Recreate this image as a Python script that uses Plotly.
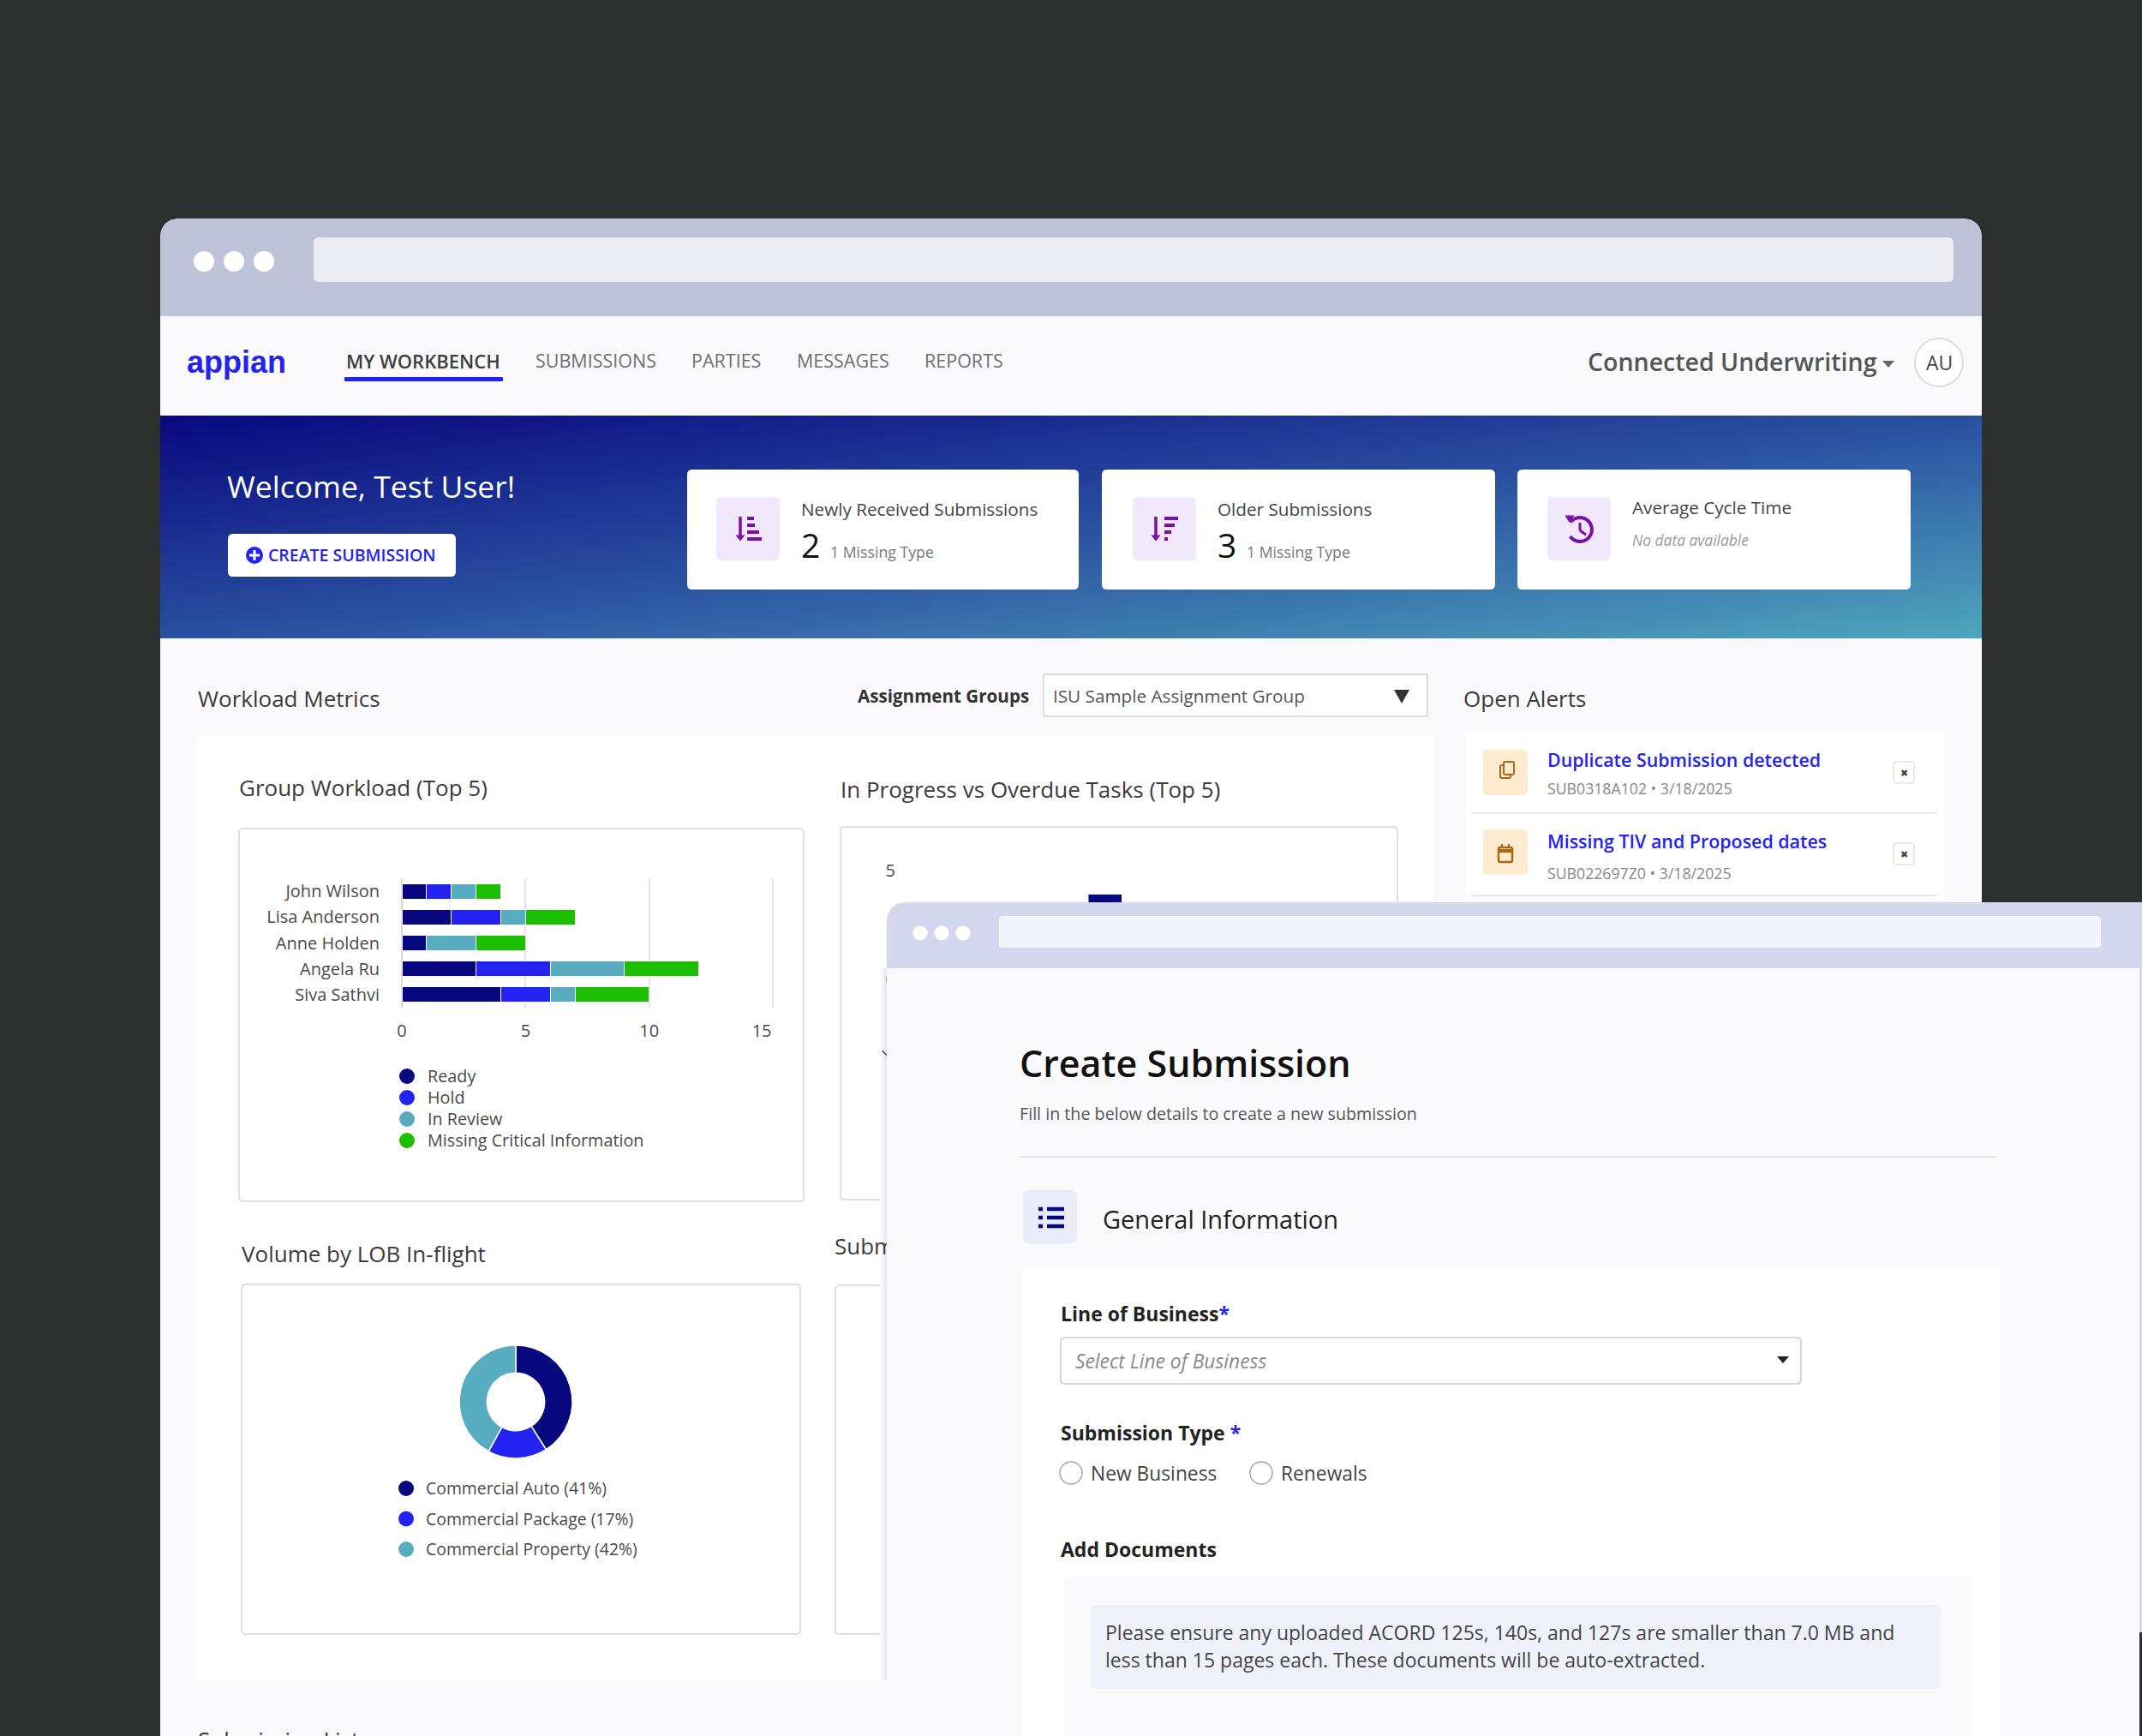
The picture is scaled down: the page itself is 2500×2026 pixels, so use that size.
"""Connected Underwriting workbench mockup: two browser windows with charts"""

import math

import plotly.graph_objects as go

W, H = 2500, 2026
FONT = "Open Sans"

# group workload data
people = ["John Wilson", "Lisa Anderson", "Anne Holden", "Angela Ru", "Siva Sathvi"]
ready = [1, 2, 1, 3, 4]
hold = [1, 2, 0, 3, 2]
in_review = [1, 1, 2, 3, 1]
missing_info = [1, 2, 2, 3, 3]
workload_ticks = [0, 5, 10, 15]
# last label sits left of its gridline in the original
workload_labels = ["0", "5", "10", "15\u00a0\u00a0\u00a0\u00a0\u00a0"]
status_names = ["Ready", "Hold", "In Review", "Missing Critical Information"]

# LOB donut data
lob_names = ["Commercial Auto", "Commercial Package", "Commercial Property"]
lob_values = [41, 17, 42]

# in progress chart, only one bar shows above the front window
progress_values = [None, None, 3.9, None, None]
progress_ticks = [0, 5]

NAVY = "#07077f"
BLUE = "#2322f0"
TEAL = "#57adbf"
GREEN = "#1cbf00"
PURPLE = "#7a0fa8"
BROWN = "#a8680f"
status_colors = [NAVY, BLUE, TEAL, GREEN]
lob_colors = [NAVY, BLUE, TEAL]

shapes = []
notes = []


def px(x):
    return x / W


def py(y):
    return 1 - y / H


def rrect(x0, y0, x1, y1, r=6, fill="white", line=None, lw=1.5, layer="below", top_only=False):
    rb = 0 if top_only else r
    d = (
        f"M{px(x0 + r)},{py(y0)} L{px(x1 - r)},{py(y0)} Q{px(x1)},{py(y0)} {px(x1)},{py(y0 + r)} "
        f"L{px(x1)},{py(y1 - rb)} Q{px(x1)},{py(y1)} {px(x1 - rb)},{py(y1)} "
        f"L{px(x0 + rb)},{py(y1)} Q{px(x0)},{py(y1)} {px(x0)},{py(y1 - rb)} "
        f"L{px(x0)},{py(y0 + r)} Q{px(x0)},{py(y0)} {px(x0 + r)},{py(y0)} Z"
    )
    shapes.append(dict(
        type="path", path=d, xref="paper", yref="paper", fillcolor=fill, layer=layer,
        line=dict(color=line, width=lw) if line else dict(width=0),
    ))


def circle(cx, cy, r, fill="white", line=None, lw=1.5, layer="below"):
    shapes.append(dict(
        type="circle", xref="paper", yref="paper", layer=layer,
        x0=px(cx - r), x1=px(cx + r), y0=py(cy + r), y1=py(cy - r), fillcolor=fill,
        line=dict(color=line, width=lw) if line else dict(width=0),
    ))


def seg(x0, y0, x1, y1, color, lw=2, layer="below"):
    shapes.append(dict(
        type="line", xref="paper", yref="paper", layer=layer,
        x0=px(x0), x1=px(x1), y0=py(y0), y1=py(y1), line=dict(color=color, width=lw),
    ))


def tri(cx, cy, w, h, color, layer="below"):
    d = f"M{px(cx - w / 2)},{py(cy - h / 2)} L{px(cx + w / 2)},{py(cy - h / 2)} L{px(cx)},{py(cy + h / 2)} Z"
    shapes.append(dict(type="path", path=d, xref="paper", yref="paper", fillcolor=color,
                       layer=layer, line=dict(width=0)))


def txt(x, y, s, size=20, color="#444444", anchor="left", weight=400, style="normal", family=FONT):
    # annotations land a touch low and right, nudge them back
    if anchor == "left":
        x -= 1.5
        y -= 1.5
    notes.append(dict(
        x=px(x), y=py(y), xref="paper", yref="paper", text=s, showarrow=False,
        xanchor=anchor, yanchor="middle", align=anchor, borderpad=0,
        font=dict(family=family, size=size, color=color, weight=weight, style=style),
    ))


# ---- backdrop and rear window
rrect(187, 255, 2313, 2060, r=24, fill="#fafafc", top_only=True)
rrect(187, 255, 2313, 369, r=24, fill="#bfc3d8", top_only=True)
rrect(366, 277, 2280, 329, r=6, fill="#ecedf2")
for cx in [238, 273, 308]:
    circle(cx, 305, 12)

# nav
txt(218, 424, "appian", 36, BLUE, weight=700, family="Liberation Sans")
txt(405, 422, "MY WORKBENCH", 22, "#3d3d3d", weight=600)
for x, label in [(625, "SUBMISSIONS"), (807, "PARTIES"), (930, "MESSAGES"), (1079, "REPORTS")]:
    txt(x, 422, label, 21.5, "#6f6f6f")
rrect(402, 440, 587, 445, r=1, fill=BLUE)
txt(1853, 424, "Connected Underwriting", 28.5, "#555555", weight=600)
tri(2204, 425, 14, 8, "#666666")
circle(2263, 423, 28, fill="white", line="#dddddd", lw=2)
txt(2263, 423, "AU", 23, "#444444", anchor="center", weight=500)

# banner text and button, cards go above the gradient
txt(265, 568, "Welcome, Test User!", 35.5, "white")
rrect(266, 623, 532, 673, r=6, layer="above")
circle(297, 648, 10, fill=BLUE, layer="above")
seg(291, 648, 303, 648, "white", 3, layer="above")
seg(297, 642, 297, 654, "white", 3, layer="above")
txt(313, 649, "CREATE SUBMISSION", 19.5, BLUE, weight=600)

cards = [
    (802, 1259, 836, "Newly Received Submissions", "2", "1 Missing Type"),
    (1286, 1745, 1322, "Older Submissions", "3", "1 Missing Type"),
    (1771, 2230, 1806, "Average Cycle Time", None, "No data available"),
]
for x0, x1, ix, title, num, sub in cards:
    rrect(x0, 548, x1, 688, r=6, layer="above")
    rrect(ix, 580, ix + 74, 654, r=6, fill="#f2e8fc", layer="above")
    tx = ix + 99
    if num:
        txt(tx, 596, title, 20.7, "#444444")
        txt(tx, 637, num, 39, "#111111")
        txt(tx + 34, 645, sub, 17.7, "#777777")
    else:
        txt(tx, 594, title, 20.7, "#444444")
        txt(tx, 631, sub, 17.4, "#9a9a9a", style="italic")

# sort icons on the first two cards
seg(864, 603, 864, 628, PURPLE, 3.5, layer="above")
tri(864, 628, 11, 7, PURPLE, layer="above")
for y, w in [(605, 8), (613, 9), (621, 14), (629, 17)]:
    seg(872, y, 872 + w, y, PURPLE, 4, layer="above")
seg(1349, 603, 1349, 628, PURPLE, 3.5, layer="above")
tri(1349, 628, 11, 7, PURPLE, layer="above")
for y, w in [(605, 16), (613, 12), (621, 8), (629, 4)]:
    seg(1359, y, 1359 + w, y, PURPLE, 4, layer="above")

# history icon on the third card
arc = [(1844 + 14 * math.cos(math.radians(a)), 618 + 14 * math.sin(math.radians(a))) for a in range(-140, 150, 15)]
shapes.append(dict(
    type="path", xref="paper", yref="paper", layer="above", line=dict(color=PURPLE, width=4),
    path="M" + " L".join(f"{px(a)},{py(b)}" for a, b in arc),
))
tri(1832, 606, 11, 9, PURPLE, layer="above")
seg(1844, 610, 1844, 619, PURPLE, 3, layer="above")
seg(1844, 619, 1851, 624, PURPLE, 3, layer="above")

# ---- workload section
txt(231, 817, "Workload Metrics", 26, "#3b3b3b", weight=500)
txt(1001, 814, "Assignment Groups", 20.6, "#333333", weight=700)
rrect(1218, 787, 1666, 836, r=1, line="#dddddd", lw=2)
txt(1229, 814, "ISU Sample Assignment Group", 20.7, "#555555")
tri(1636, 813, 18, 16, "#333333")
rrect(231, 859, 1674, 1960, r=2)

# chart panels
txt(279, 920, "Group Workload (Top 5)", 26, "#3b3b3b", weight=500)
rrect(279, 967, 938, 1402, r=5, line="#dfdfe8", lw=2)
txt(981, 922, "In Progress vs Overdue Tasks (Top 5)", 26, "#3b3b3b", weight=500)
rrect(981, 965, 1631, 1400, r=5, line="#dfdfe8", lw=2)
txt(282, 1464, "Volume by LOB In-flight", 26, "#3b3b3b", weight=500)
rrect(282, 1499, 934, 1907, r=5, line="#dfdfe8", lw=2)
rrect(975, 1500, 1600, 1907, r=5, line="#dfdfe8", lw=2)

# soft shadow left of the front window
seg(1029, 1130, 1029, 1960, "#f8f8fb", 2)
seg(1031, 1130, 1031, 1960, "#f2f2f8", 2)
seg(1033.5, 1130, 1033.5, 1960, "#e9e9f3", 3)

# legends
for i, name in enumerate(status_names):
    y = 1256 + i * 25
    circle(475, y, 9, fill=status_colors[i])
    txt(499, y + 1, name, 19.8, "#4a4a4a")
for i, name in enumerate(lob_names):
    y = 1737 + i * 35.5
    circle(474, y, 9, fill=lob_colors[i])
    txt(497, y + 1, f"{name} ({lob_values[i]}%)", 19.4, "#4a4a4a")

# open alerts
txt(1708, 817, "Open Alerts", 26, "#3b3b3b", weight=500)
rrect(1710, 853, 2269, 1100, r=4)
alerts = [
    (875, 888, 921, 901, 949, "Duplicate Submission detected", "SUB0318A102 • 3/18/2025"),
    (968, 983, 1020, 996, 1045, "Missing TIV and Proposed dates", "SUB022697Z0 • 3/18/2025"),
]
for y0, ty, sy, by, ly, title, sub in alerts:
    rrect(1731, y0, 1783, y0 + 53, r=5, fill="#fdebd0")
    txt(1806, ty, title, 21.4, BLUE, weight=600)
    txt(1806, sy, sub, 17.7, "#888888")
    rrect(2210, by - 12, 2234, by + 13, r=4, line="#e2e2e8", lw=1.5)
    txt(2222, by, "✖", 11, "#444444", anchor="center")
    seg(1717, ly, 2261, ly, "#e8e8ee", 2)
# copy icon
rrect(1751, 893, 1763, 908, r=2, fill="#fdebd0", line=BROWN, lw=2)
rrect(1755, 889, 1767, 904, r=2, fill="#fdebd0", line=BROWN, lw=2)
# calendar icon
rrect(1749, 989, 1765, 1006, r=2, fill="#fdebd0", line=BROWN, lw=2.5)
seg(1749, 993, 1765, 993, BROWN, 4)
seg(1753, 985, 1753, 990, BROWN, 2)
seg(1761, 985, 1761, 990, BROWN, 2)

# ---- front window, drawn over the rear charts
rrect(1035, 1053, 2540, 2060, r=24, fill="#d4d8ee", layer="above", top_only=True)
rrect(1035, 1130, 2497, 2060, r=1, fill="#fafafc", layer="above")
rrect(2497, 1905, 2540, 2060, r=1, fill="#2e302f", layer="above")
rrect(1166, 1069, 2452, 1106, r=5, fill="#f4f5fb", layer="above")
for cx in [1074, 1099, 1124]:
    circle(cx, 1089, 8.5, layer="above")

txt(1190, 1242, "Create Submission", 43, "#111111", weight=600)
txt(1190, 1301, "Fill in the below details to create a new submission", 19.7, "#555555")
seg(1190, 1350, 2330, 1350, "#d8d8e2", 1.5, layer="above")
rrect(1194, 1389, 1257, 1451, r=6, fill="#eaedf9", layer="above")
for y in [1411, 1421, 1431]:
    seg(1212, y, 1217, y, NAVY, 4.5, layer="above")
    seg(1222, y, 1242, y, NAVY, 4.5, layer="above")
txt(1288, 1424, "General Information", 29, "#222222", weight=500)

rrect(1194, 1479, 2334, 2060, r=10, layer="above")
txt(1238, 1534, f"Line of Business<span style='color:{BLUE}'>*</span>", 23, "#222222", weight=700)
rrect(1238, 1561, 2102, 1615, r=5, line="#cccccc", lw=1.5, layer="above")
txt(1255, 1590, "Select Line of Business", 22.8, "#8a8a8a", style="italic")
tri(2081, 1587, 14, 8, "#222222", layer="above")
txt(1238, 1673, f"Submission Type <span style='color:{BLUE}'>*</span>", 23, "#222222", weight=700)
circle(1250, 1719, 13, line="#aaaaaa", layer="above")
txt(1273, 1721, "New Business", 22.8, "#444444")
circle(1472, 1719, 13, line="#aaaaaa", layer="above")
txt(1495, 1721, "Renewals", 22.8, "#444444")
txt(1238, 1809, "Add Documents", 23, "#222222", weight=700)
rrect(1241, 1840, 2301, 2060, r=10, fill="#fafafc", layer="above")
rrect(1273, 1873, 2265, 1971, r=6, fill="#eff2fb", layer="above")
txt(1290, 1906, "Please ensure any uploaded ACORD 125s, 140s, and 127s are smaller than 7.0 MB and", 23, "#444444")
txt(1290, 1938, "less than 15 pages each. These documents will be auto-extracted.", 23, "#444444")

txt(231, 2031, "Submission List", 26, "#3b3b3b", weight=500)

fig = go.Figure()

# banner gradient, corners only
fig.add_trace(go.Heatmap(
    x=[187, 2313], y=[485, 745], z=[[0, 0.5], [0.5, 1]], zsmooth="best", showscale=False,
    colorscale=[[0, "#08087f"], [0.5, "#2a4fa0"], [1, "#4fa6bd"]], hoverinfo="skip",
    xaxis="x", yaxis="y",
))

# stacked workload bars
for name, vals, color in zip(status_names, [ready, hold, in_review, missing_info], status_colors):
    fig.add_trace(go.Bar(
        y=people, x=vals, name=name, orientation="h", marker=dict(color=color, line=dict(color="white", width=1)),
        xaxis="x2", yaxis="y2", showlegend=False,
    ))

# grouped look: the bar sits left of its category centre
fig.add_trace(go.Bar(
    x=people, y=progress_values, marker=dict(color=NAVY), xaxis="x3", yaxis="y3", showlegend=False,
    width=0.36, offset=-0.435,
))

# this title runs behind the front window, so it has to be a trace and not an annotation
fig.add_trace(go.Scatter(
    x=[974], y=[1457], text=["Submissions"], mode="text", textposition="middle right", cliponaxis=False,
    textfont=dict(family=FONT, size=26, color="#3b3b3b", weight=500), hoverinfo="skip", showlegend=False,
    xaxis="x4", yaxis="y4",
))

fig.add_trace(go.Pie(
    labels=lob_names, values=lob_values, hole=0.51, sort=False, direction="clockwise", rotation=0,
    marker=dict(colors=lob_colors, line=dict(color="white", width=1.5)), textinfo="none", showlegend=False,
    domain=dict(x=[px(536), px(668)], y=[py(1702), py(1570)]),
))

tick_font = dict(family=FONT, size=20, color="#4a4a4a")
fig.update_layout(
    width=W, height=H, margin=dict(l=0, r=0, t=0, b=0), autosize=False,
    paper_bgcolor="#2e302f", plot_bgcolor="rgba(0,0,0,0)",
    barmode="stack", bargap=0.4, shapes=shapes, annotations=notes,
    font=dict(family=FONT),
    xaxis=dict(domain=[px(187), px(2313)], range=[187, 2313], visible=False, fixedrange=True, automargin=False),
    yaxis=dict(domain=[py(745), py(485)], range=[745, 485], visible=False, fixedrange=True, automargin=False),
    xaxis2=dict(
        domain=[px(469), px(905)], range=[0, 15.1], tickvals=workload_ticks, ticktext=workload_labels,
        showgrid=True, gridcolor="#e6e6ea", gridwidth=1.5, zeroline=True, zerolinecolor="#d8d8dc", showline=False,
        tickfont=tick_font, ticklabelstandoff=13, anchor="y2", automargin=False,
    ),
    yaxis2=dict(
        domain=[py(1176), py(1025)], autorange="reversed", showgrid=False, zeroline=False, showline=False,
        tickfont=tick_font, ticklabelstandoff=25, anchor="x2", categoryorder="array", categoryarray=people,
        automargin=False,
    ),
    xaxis3=dict(
        domain=[px(1046), px(1589)], showgrid=False, zeroline=False, anchor="y3", tickangle=-45,
        tickfont=dict(family=FONT, size=18, color="#4a4a4a"), categoryorder="array", categoryarray=people,
        ticklabelstandoff=8, automargin=False,
    ),
    yaxis3=dict(
        domain=[py(1143), py(1016)], range=[0, 5], tickvals=progress_ticks, showgrid=True, gridcolor="#e6e6ea",
        gridwidth=1.5, zeroline=False, tickfont=tick_font, anchor="x3", automargin=False,
    ),
    xaxis4=dict(domain=[0, 1], range=[0, W], visible=False, fixedrange=True, automargin=False, anchor="y4"),
    yaxis4=dict(domain=[0, 1], range=[H, 0], visible=False, fixedrange=True, automargin=False, anchor="x4"),
)

# page margin off so the figure fills the window
fig.write_html(
    "out.html",
    config={"displayModeBar": False},
    post_script="document.body.style.margin = '0';",
)
